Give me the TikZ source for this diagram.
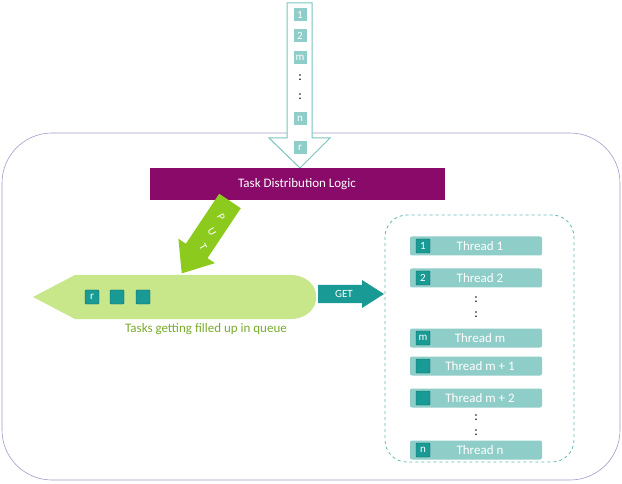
\documentclass[tikz,border=0pt]{standalone}
\usepackage{fontspec}
\setmainfont{Carlito}
\definecolor{tl}{HTML}{1A9A94}
\definecolor{tlb}{HTML}{8ECDC8}
\definecolor{arr}{HTML}{7CC4C0}
\definecolor{pur}{HTML}{8A0A6A}
\definecolor{qg}{HTML}{C8E68A}
\definecolor{pg}{HTML}{8CCB1E}
\definecolor{cap}{HTML}{7AAB2C}
\tikzset{
 lbl/.style={fill=tlb,text=white,font=\fontsize{11}{12}\selectfont,minimum size=13pt,inner sep=1pt},
 ico/.style={fill=tl,draw=tl!70!black,rounded corners=1pt,text=white,font=\fontsize{11}{12}\selectfont,minimum size=14pt,inner sep=0pt},
 thr/.style={fill=tlb,rounded corners=2pt,minimum width=132pt,minimum height=19pt,text=white,font=\fontsize{13}{14}\selectfont},
 dots/.style={font=\fontsize{13}{14}\selectfont},
 putl/.style={text=white,font=\fontsize{11}{12}\selectfont,rotate=-60,inner sep=0pt}
}
\begin{document}
\begin{tikzpicture}[x=1pt,y=-1pt]
\useasboundingbox (0,0) rectangle (622,484);
\draw[color=blue!30!gray!60,line width=0.6pt,rounded corners=50pt] (2,133) rectangle (620,480);
% input arrow
\draw[arr,fill=white,line width=1pt] (287,3) -- (312,3) -- (312,138) -- (330,138) -- (300,168) -- (269,138) -- (287,138) -- cycle;
\foreach \t/\y/\n in {1/15/a,2/36/b,m/58/c,n/119/d,r/148/e} \node[lbl] (in\n) at (300,\y) {\t};
\node[dots] (id1) at (300,78) {:};
\node[dots] (id2) at (300,97) {:};
% distribution
\node[fill=pur,minimum width=295pt,minimum height=32pt,anchor=north west] (tdl) at (150,168) {};
\node[text=white,font=\fontsize{13}{14}\selectfont] (tdlt) at (297,184) {Task Distribution Logic};
% queue
\fill[qg] (33,297) -- (75,275) -- (290,275) .. controls (325,275) and (325,319) .. (290,319) -- (75,319) -- cycle;
\node[ico] (q1) at (92,297) {r};
\node[ico] (q2) at (117,297) {};
\node[ico] (q3) at (143,297) {};
\node[text=cap,font=\fontsize{13}{14}\selectfont] (capt) at (206,329) {Tasks getting filled up in queue};
% PUT arrow
\begin{scope}[shift={(230,201)},rotate=-123.7]
\fill[pg] (0,-13) -- (60,-13) -- (60,-22) -- (87,0) -- (60,22) -- (60,13) -- (0,13) -- cycle;
\end{scope}
\node[putl] (pp) at (221,217) {P};
\node[putl] (pu) at (212,232) {U};
\node[putl] (pt) at (203,247) {T};
% GET arrow
\fill[tl] (318,285) -- (362,285) -- (362,280) -- (384,294) -- (362,308) -- (362,303) -- (318,303) -- cycle;
\node[text=white,font=\fontsize{11}{12}\selectfont] (get) at (344,294) {GET};
% threads
\draw[tl!70,dashed,line width=0.8pt,rounded corners=22pt] (385,215) rectangle (574,462);
\foreach \y/\i/\t/\k in {246/1/Thread 1/a,278/2/Thread 2/b,338/m/Thread m/c,366//Thread m + 1/d,398//Thread m + 2/e,450/n/Thread n/f}{
 \node[thr] (t\k) at (476,\y) {\hspace{8pt}\t};
 \node[ico] (ti\k) at (423,\y) {\i};
}
\node[dots] (td1) at (476,300) {:};
\node[dots] (td2) at (476,315) {:};
\node[dots] (td3) at (476,418) {:};
\node[dots] (td4) at (476,433) {:};
\end{tikzpicture}
\end{document}
